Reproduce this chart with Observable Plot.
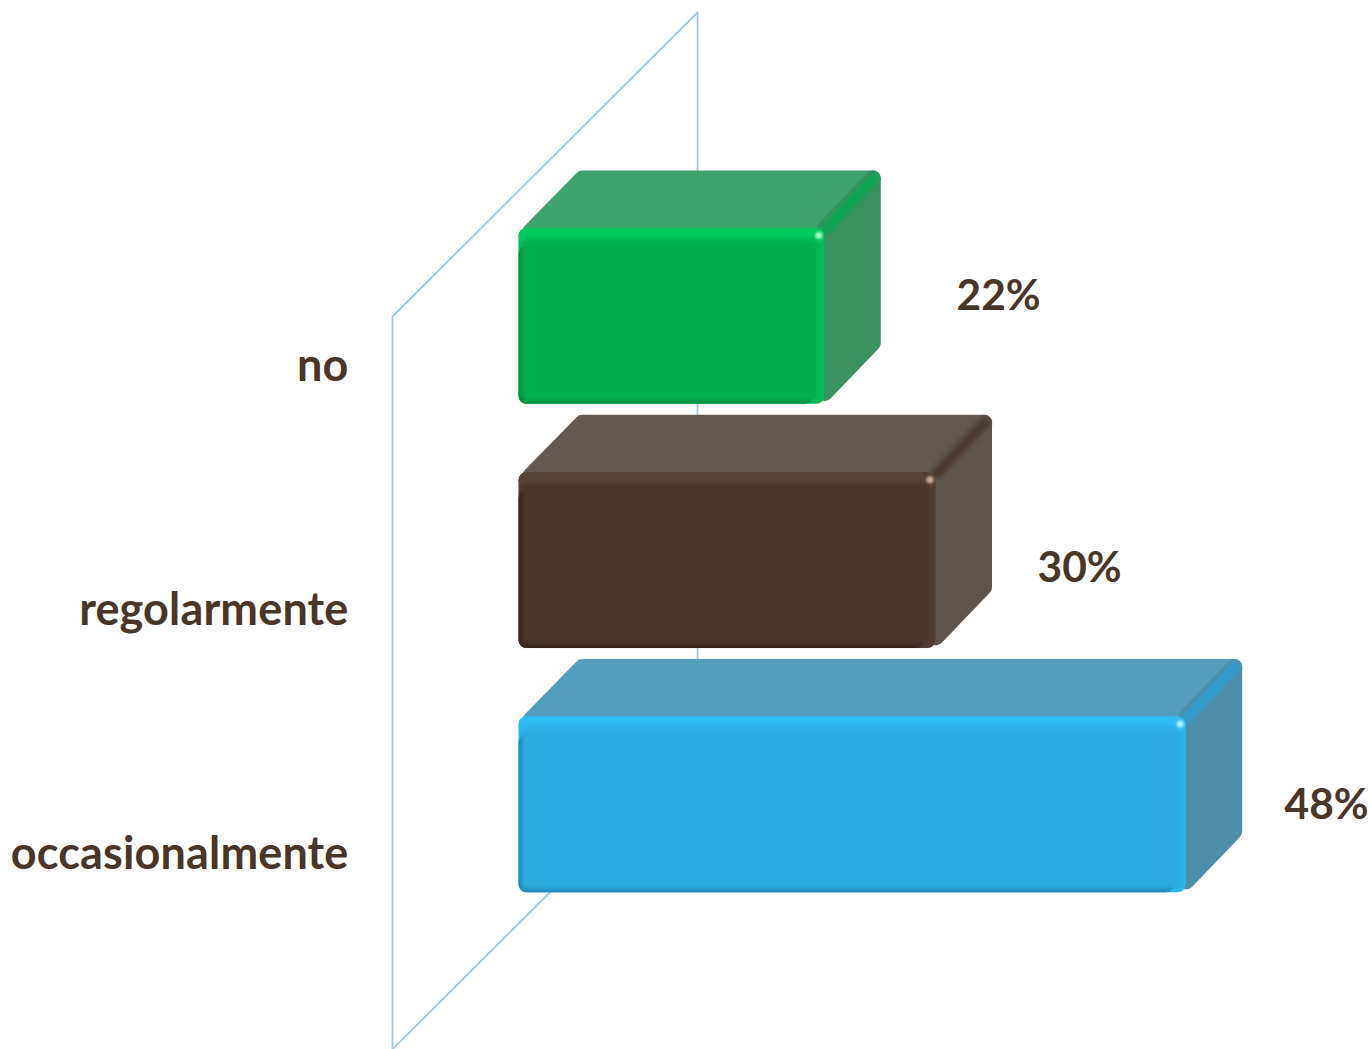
<!DOCTYPE html>
<html lang="it">
<head>
<meta charset="utf-8">
<title>no, regolarmente, occasionalmente</title>
<script src="https://cdn.jsdelivr.net/npm/d3@7"></script>
<script src="https://cdn.jsdelivr.net/npm/@observablehq/plot@0.6"></script>
<style>
  html, body { margin: 0; padding: 0; background: #fff; overflow: hidden; }
  svg { display: block; }
  g[aria-label="y-axis tick label"] { letter-spacing: 0.15px; }
</style>
</head>
<body>
<div id="chart"></div>
<script>
// Answer categories and their shares, in percent.
const categories = ["no", "regolarmente", "occasionalmente"];
const shares = [22, 30, 48];

// Face colours for each box.
const frontColors = ["#00b050", "#4a3529", "#2caadf"];
const topColors = ["#3ea26e", "#65584f", "#559dbd"];
const sideColors = ["#3a925f", "#5f544c", "#4f8eab"];
const litColors = ["#00c95d", "#584337", "#2ebcf2"];
const rimColors = ["#00bd57", "#513c30", "#2db3e9"];
const shadeColors = ["#00893d", "#35231a", "#1f86b4"];
const ridgeColors = ["#0ca552", "#4e3c31", "#2f9dcc"];
const glintColors = ["#a4f8c6", "#c9ab96", "#b0eeff"];

const width = 1371;
const height = 1049;
const textColor = "#4a3529";
const textFont = "Lato, Carlito, sans-serif";

// Pixels per percentage point, and per row of the chart.
const unitX = 13.9;
const unitY = 244.25;
const px = (v) => v / unitX;
const py = (v) => v / unitY;

const zeroAt = 518.5;
const firstRowAt = 228;
const rowSpan = 0.72;
const depthX = px(56);
const depthY = py(-58);
const corner = 8;
const slant = corner * Math.SQRT2;

const rows = categories.map((category, i) => ({
  category, share: shares[i], i, y1: i, y2: i + rowSpan, mid: i + rowSpan / 2
}));

// The back wall is a slanted plane running three rows tall.
const wallFront = px(392 - zeroAt);
const wallBack = px(697 - zeroAt);
const wallTop = py(316 - firstRowAt);
const wallShift = py(-304);
const wall = [
  {x: wallFront, y: wallTop + 3},
  {x: wallFront, y: wallTop},
  {x: wallBack, y: wallTop + wallShift},
  {x: wallBack, y: wallTop + wallShift + 3},
  {x: wallFront, y: wallTop + 3}
];

// Faces are inset by the stroke radius so the round line joins give soft corners.
const backLean = px(4);
const topFace = (r) => [
  {x: px(slant), y: r.y1 + py(3)},
  {x: backLean + depthX + px(slant - corner), y: r.y1 + depthY + py(corner)},
  {x: r.share + depthX - px(corner), y: r.y1 + depthY + py(corner)},
  {x: r.share, y: r.y1}
];
const sideFace = (r) => [
  {x: r.share, y: r.y1},
  {x: r.share + depthX - px(corner), y: r.y1 + depthY + py(corner)},
  {x: r.share + depthX - px(corner), y: r.y2 + depthY + py(corner - slant)},
  {x: r.share, y: r.y2 - py(slant)}
];
const ridge = (r) => [
  {x: r.share + px(1), y: r.y1 + py(1)},
  {x: r.share + depthX - px(7), y: r.y1 + depthY + py(8)}
];

const face = (points, color) => Plot.line(points, {
  x: "x", y: "y", curve: "linear-closed",
  fill: color, stroke: color, strokeWidth: corner * 2, strokeLinejoin: "round"
});

const box = (r) => {
  const data = [r];
  const front = {x1: () => 0, x2: "share", y1: "y1", y2: "y2", rx: 8};
  return [
    face(topFace(r), topColors[r.i]),
    face(sideFace(r), sideColors[r.i]),
    Plot.line(ridge(r), {
      x: "x", y: "y", stroke: ridgeColors[r.i], strokeWidth: 10,
      strokeLinecap: "round", imageFilter: "blur(2px)"
    }),
    // Front face: side rim, lit top band, shaded rim, then the flat centre on top.
    Plot.rect(data, {...front, fill: rimColors[r.i]}),
    Plot.rect(data, {...front, fill: litColors[r.i], insetBottom: 160}),
    Plot.rect(data, {...front, fill: shadeColors[r.i], insetRight: 12, insetTop: 18}),
    Plot.rect(data, {
      ...front, fill: frontColors[r.i], rx: 5,
      insetLeft: 3, insetRight: 7, insetTop: 11, insetBottom: 3,
      imageFilter: "blur(2px)"
    }),
    Plot.dot(data, {
      x: "share", y: "y1", r: 3.5, dx: -6, dy: 7,
      fill: glintColors[r.i], imageFilter: "blur(1px)"
    })
  ];
};

// Value labels sit beside each box, each with its own offset.
const labelOffsets = [[131.7, -20], [101.5, 8], [98.3, 0.6]];

const chart = Plot.plot({
  width,
  height,
  marginTop: 0,
  marginBottom: 0,
  marginRight: 0,
  marginLeft: 348,
  style: {background: "#fff", overflow: "visible"},
  x: {
    domain: [px(-zeroAt), px(width - zeroAt)],
    range: [0, width],
    axis: null
  },
  y: {
    domain: [py(-firstRowAt), py(height - firstRowAt)],
    range: [0, height],
    axis: null
  },
  marks: [
    Plot.line(wall, {x: "x", y: "y", stroke: "#9fcbe9", strokeWidth: 1.8}),
    rows.flatMap(box),
    Plot.axisY(rows.map((r) => r.mid), {
      anchor: "left",
      label: null,
      tickSize: 0,
      tickPadding: 0,
      tickFormat: (v) => categories[Math.round(v - rowSpan / 2)],
      dy: 50,
      fontSize: 45,
      fontWeight: 700,
      fontFamily: textFont,
      fill: textColor
    }),
    rows.map((r) => Plot.text([r], {
      x: "share",
      y: "mid",
      text: (d) => `${d.share}%`,
      textAnchor: "start",
      dx: labelOffsets[r.i][0],
      dy: labelOffsets[r.i][1],
      fontSize: 42.5,
      fontWeight: 700,
      fontFamily: textFont,
      fill: textColor
    }))
  ]
});

document.getElementById("chart").append(chart);
</script>
</body>
</html>
